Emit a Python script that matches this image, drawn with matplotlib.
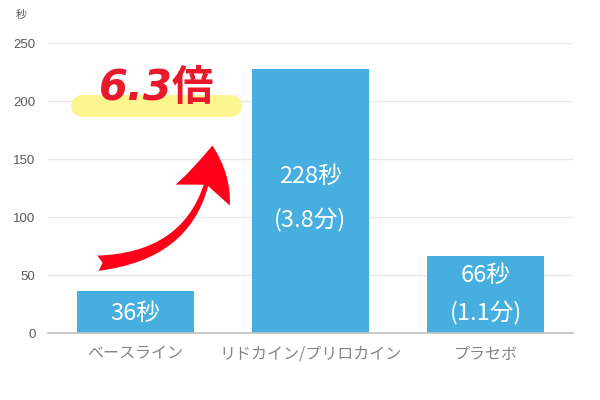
import matplotlib.pyplot as plt
from matplotlib.patches import FancyArrowPatch

plt.rcParams['font.family'] = ['Noto Sans CJK JP', 'DejaVu Sans']

# data
categories = ['ベースライン', 'リドカイン/プリロカイン', 'プラセボ']
seconds = [36, 228, 66]
minutes = [None, 3.8, 1.1]
yticks = [0, 50, 100, 150, 200, 250]

bar_color = '#47afe0'
grid_color = '#e8e8e8'

fig = plt.figure(figsize=(6, 4), dpi=100)
ax = fig.add_axes([0.08, 0.1675, 0.875, 0.725])

x = range(len(categories))
ax.bar(x, seconds, width=0.663, color=bar_color, zorder=2)

ax.set_xlim(-0.5, 2.5)
ax.set_ylim(0, 250)
ax.set_yticks(yticks)
ax.set_xticks(list(x))
ax.set_xticklabels(categories, color='#858585', fontsize=11.5)
ax.set_yticklabels([str(t) for t in yticks], family='Liberation Sans', fontsize=9.5)
ax.tick_params(axis='y', colors='#595959', length=0, pad=9)
ax.tick_params(axis='x', length=0, pad=9)
ax.yaxis.grid(True, color=grid_color, lw=1, zorder=0)
for s in ['top', 'right', 'left']:
    ax.spines[s].set_visible(False)
ax.spines['bottom'].set_color('#bfbfbf')
ax.spines['bottom'].set_linewidth(1.2)
ax.spines['bottom'].set_zorder(3)

# labels inside bars (seconds, then minutes underneath)
sec_y = [17, 135, 50]
min_y = [None, 97, 17]
for i, (s, m) in enumerate(zip(seconds, minutes)):
    ax.text(i, sec_y[i], f'{s}秒', color='white', fontsize=17,
            ha='center', va='center', zorder=4)
    if m is not None:
        ax.text(i, min_y[i], f'({m}分)', color='white', fontsize=17,
                ha='center', va='center', zorder=4)

# unit label
fig.text(0.035, 0.962, '秒', fontsize=8, color='#595959', ha='center', va='center')

# yellow highlight + ratio text
ax.plot([-0.306, 0.546], [195.7, 195.7], color='#fcf68a', lw=15.8,
        solid_capstyle='round', zorder=3, alpha=0.95)
ratio = seconds[1] / seconds[0]
ax.text(0.123, 211, f'{ratio:.1f}倍', color='#e8192c', fontsize=30,
        fontweight='bold', style='italic', family=['DejaVu Sans', 'Noto Sans CJK JP'],
        ha='center', va='center', zorder=4)

# curved arrow
arrow = FancyArrowPatch((-0.23, 60), (0.44, 164),
                        connectionstyle='arc3,rad=0.45',
                        arrowstyle='fancy,head_length=1.65,head_width=1.9,tail_width=0.5',
                        mutation_scale=22, color='#ff0019', lw=0, zorder=4)
ax.add_patch(arrow)

fig.savefig('out.png', dpi=100)
